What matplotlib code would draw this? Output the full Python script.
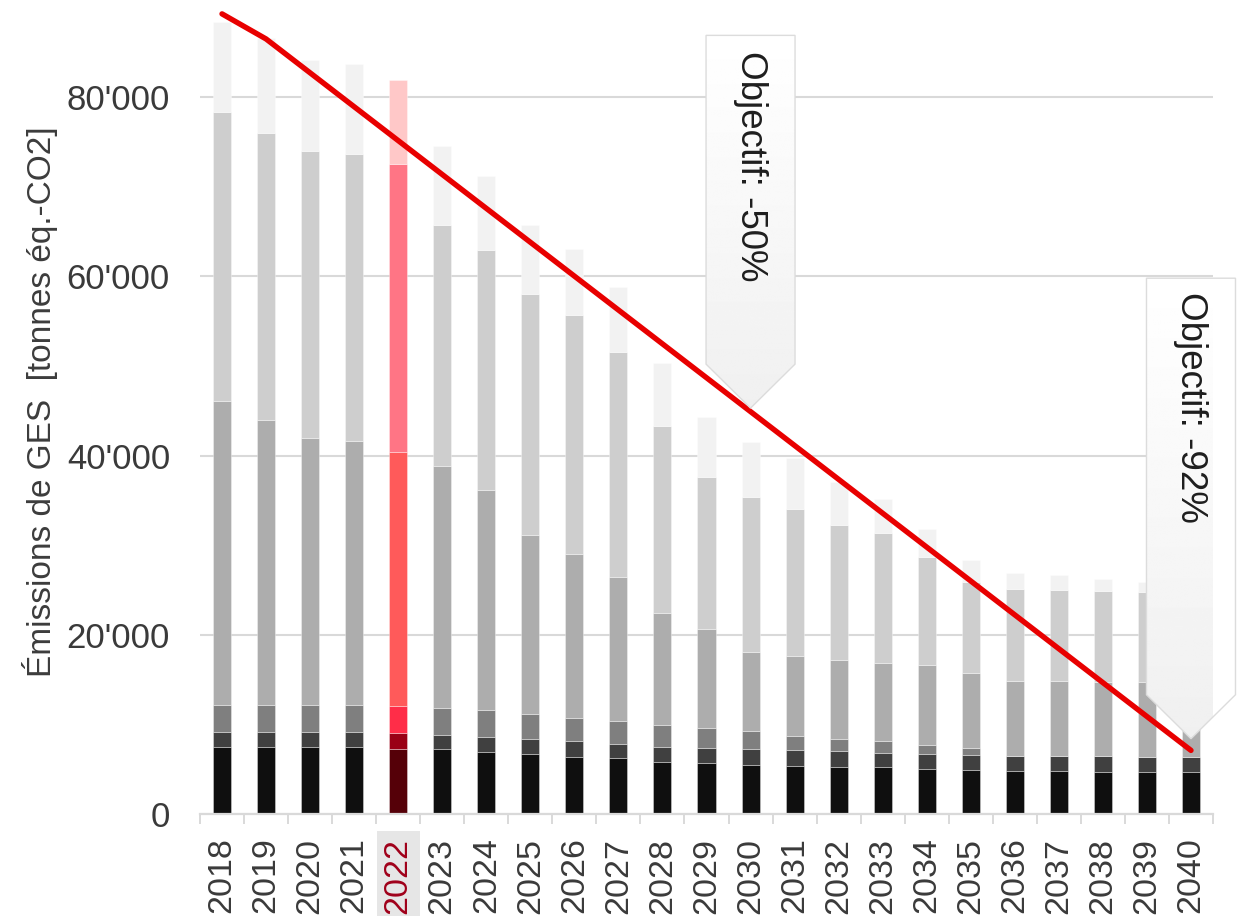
import numpy as np
import matplotlib
matplotlib.use("Agg")
import matplotlib.pyplot as plt
from matplotlib.patches import Polygon
from matplotlib.ticker import FuncFormatter

plt.rcParams['font.family'] = ['Liberation Sans', 'DejaVu Sans']

# ---------------- data ----------------
years = list(range(2018, 2041))
highlight_year = 2022

# segment heights (tonnes eq.-CO2), bottom -> top
seg_black = [7500, 7500, 7500, 7500, 7250, 7200, 6950, 6700, 6400, 6200, 5800, 5700,
             5500, 5400, 5300, 5200, 5000, 4900, 4800, 4800, 4700, 4700, 4700]
seg_dark = [1700, 1700, 1700, 1700, 1750, 1650, 1650, 1700, 1700, 1650, 1700, 1700,
            1700, 1700, 1700, 1600, 1700, 1700, 1700, 1700, 1800, 1700, 1700]
seg_mid = [3000, 3000, 3000, 3000, 3050, 2950, 3000, 2800, 2650, 2550, 2400, 2200,
           2100, 1600, 1400, 1300, 1000, 800, 0, 0, 0, 0, 0]
seg_gray = [33900, 31800, 29800, 29400, 28350, 27000, 24600, 19900, 18250, 16000, 12500, 11100,
            8800, 8900, 8800, 8800, 8900, 8300, 8300, 8300, 8200, 8300, 8200]
seg_light = [32200, 32000, 32000, 32100, 32100, 26900, 26700, 26900, 26700, 25200, 20900, 16900,
             17300, 16400, 15100, 14500, 12100, 10200, 10300, 10200, 10200, 10100, 10100]
seg_vlight = [10100, 10600, 10200, 10000, 9400, 8900, 8300, 7700, 7400, 7200, 7000, 6700,
              6100, 5700, 4700, 3800, 3100, 2400, 1800, 1700, 1300, 1100, 1100]

series = [seg_black, seg_dark, seg_mid, seg_gray, seg_light, seg_vlight]
colors_gray = ['#0f0f0f', '#404040', '#7f7f7f', '#adadad', '#cecece', '#f2f2f2']
colors_red = ['#550008', '#9a0015', '#ff2d48', '#ff5a5a', '#ff7585', '#ffc8c8']

# target trajectory line
line_years = [2018, 2019, 2040]
line_values = [89300, 86500, 7100]

# callouts: (year, value pointed at, top of box, text centre, label)
callouts = [
    (2030, 45300, 86900, 72300, "Objectif: -50%"),
    (2040, 8400, 59800, 45400, "Objectif: -92%"),
]

yticks = [0, 20000, 40000, 60000, 80000]

# ---------------- figure ----------------
W, H = 1238, 916
fig = plt.figure(figsize=(W / 100, H / 100), dpi=100)
ax = fig.add_axes([200 / W, (H - 814) / H, 1013 / W, 814 / H])

x = np.arange(len(years))
hi = years.index(highlight_year)
bottom = np.zeros(len(years))
for vals, cg, cr in zip(series, colors_gray, colors_red):
    cols = [cr if i == hi else cg for i in range(len(years))]
    ax.bar(x, vals, bottom=bottom, width=0.41, color=cols,
           edgecolor=(1, 1, 1, 0.35), linewidth=0.7, zorder=2)
    bottom += np.array(vals)

lx = [years.index(y) for y in line_years]
ax.plot(lx, line_values, color='#e80000', lw=3.9, solid_capstyle='round',
        solid_joinstyle='round', zorder=4, clip_on=False)

ymax = 814 / 8.96 * 1000
px_y = ymax / 814.0
px_x = 23 / 1013.0
half_w = 44.5 * px_x
depth = 44 * px_y

grad = np.linspace(1.0, 0.94, 256).reshape(-1, 1)
for yr, tipv, topv, textv, label in callouts:
    cx = years.index(yr)
    pts = [(cx - half_w, topv), (cx + half_w, topv), (cx + half_w, tipv + depth),
           (cx, tipv), (cx - half_w, tipv + depth)]
    poly = Polygon(pts, closed=True, facecolor='none', edgecolor='#dcdcdc',
                   lw=1.0, zorder=6, clip_on=False)
    ax.add_patch(poly)
    im = ax.imshow(grad, cmap='gray', vmin=0, vmax=1, aspect='auto',
                   extent=[cx - half_w, cx + half_w, tipv, topv],
                   origin='upper', zorder=5, interpolation='bilinear')
    im.set_clip_path(poly)
    im.set_clip_box(None)
    ax.text(cx, textv, label, rotation=-90, ha='center', va='center',
            fontsize=26.5, color='#1e1e1e', zorder=7)

ax.set_xlim(-0.5, len(years) - 0.5)
ax.set_ylim(0, ymax)

# axes styling
for s in ['left', 'top', 'right']:
    ax.spines[s].set_visible(False)
ax.spines['bottom'].set_color('#d9d9d9')
ax.spines['bottom'].set_linewidth(1.6)
ax.spines['bottom'].set_zorder(3)

ax.set_yticks(yticks)
ax.yaxis.set_major_formatter(FuncFormatter(lambda v, p: f"{v:,.0f}".replace(",", "'")))
ax.tick_params(axis='y', length=0, pad=21.6, labelsize=25, labelcolor='#3a3a3a')
ax.yaxis.grid(True, color='#d9d9d9', lw=1.5, zorder=0)
ax.set_axisbelow(True)

ax.set_xticks(x)
ax.set_xticklabels([str(y) for y in years], rotation=90)
ax.tick_params(axis='x', which='major', length=0, pad=17.0, labelsize=24.5,
               labelcolor='#3a3a3a')
ax.set_xticks(np.arange(-0.5, len(years), 1), minor=True)
ax.tick_params(axis='x', which='minor', length=7.2, width=1.4, color='#d9d9d9')

lab = ax.get_xticklabels()[hi]
lab.set_color('#a0001a')
lab.set_bbox(dict(facecolor='#e6e6e6', edgecolor='none', pad=4.5))

fig.text(40 / W, 1 - 402 / H, "Émissions de GES  [tonnes éq.-CO2]", rotation=90,
         ha='center', va='center', fontsize=24, color='#3c3c3c')

fig.savefig("out.png", dpi=100)
